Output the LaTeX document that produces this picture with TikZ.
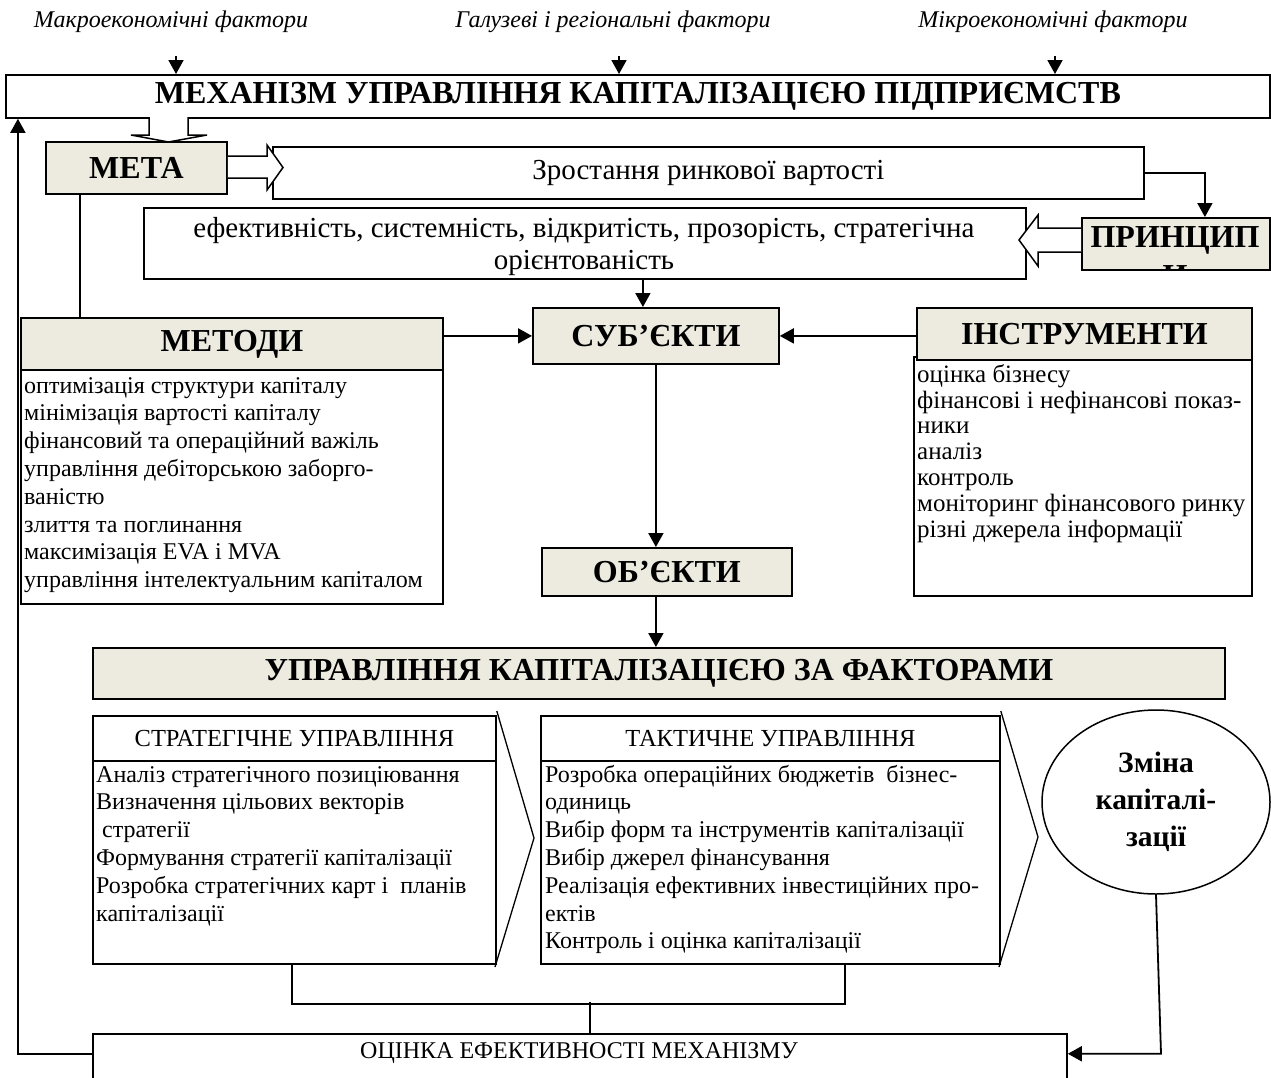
\documentclass[tikz,border=0pt]{standalone}
\usepackage{fontspec}
\setmainfont{Liberation Serif}
\usetikzlibrary{arrows.meta,shapes.geometric}
\definecolor{beige}{RGB}{237,235,224}
\begin{document}
\begin{tikzpicture}[x=1pt,y=-1pt,
  bx/.style={draw,line width=1.8pt,inner sep=0pt,anchor=north west},
  hd/.style={bx,fill=beige,font=\bfseries\fontsize{32}{36}\selectfont},
  ln/.style={line width=1.8pt},
  arr/.style={ln,-{Triangle[length=14pt,width=15pt]}},
  hol/.style={line width=1.5pt,line join=miter},
  lab/.style={font=\itshape\fontsize{24}{28}\selectfont,inner sep=0pt},
  lst/.style={anchor=north west,inner sep=0pt,align=left,font=\fontsize{24}{27.8}\selectfont},
  sub/.style={bx,font=\fontsize{24.5}{28}\selectfont},
  chev/.style={line width=1.3pt},
]
\useasboundingbox (0,0) rectangle (1271,1077);
\fill[white] (0,0) rectangle (1271,1077);

% top labels
\node[lab] (l1) at (171,22) {Макроекономічні фактори};
\node[lab] (l2) at (613,22) {Галузеві і регіональні фактори};
\node[lab] (l3) at (1053,22) {Мікроекономічні фактори};

% title
\node[bx,minimum width=1264pt,minimum height=43pt,font=\bfseries\fontsize{32}{36}\selectfont] (title) at (5,74) {МЕХАНІЗМ УПРАВЛІННЯ КАПІТАЛІЗАЦІЄЮ ПІДПРИЄМСТВ};
\coordinate (t1) at (176,56);
\coordinate (t2) at (619,56);
\coordinate (t3) at (1055,56);
\draw[arr] (t1) -- (t1 |- title.north);
\draw[arr] (t2) -- (t2 |- title.north);
\draw[arr] (t3) -- (t3 |- title.north);

% META
\node[hd,minimum width=181pt,minimum height=52pt] (meta) at (45,141) {МЕТА};
\node[bx,minimum width=871pt,minimum height=52pt,font=\fontsize{29}{32}\selectfont] (grow) at (272,146) {Зростання ринкової вартості};

% hollow down arrow title -> META
\filldraw[hol,fill=white] (149,117) -- (149,135) -- (131,135) -- (168.5,142) -- (207,135) -- (188,135) -- (188,117);
% hollow right arrow META -> grow
\fill[white] (meta.east |- 0,156) -- (267,156) -- (267,145) -- (283,167.5) -- (267,190) -- (267,178) -- (meta.east |- 0,178) -- cycle;
\draw[hol] (meta.east |- 0,156) -- (267,156) -- (267,145) -- (283,167.5) -- (267,190) -- (267,178) -- (meta.east |- 0,178);

% principles
\node[bx,minimum width=882pt,minimum height=71pt] (prin) at (143,207) {};
\node[align=center,inner sep=0pt,font=\fontsize{29}{32}\selectfont] (print) at (584,247) {ефективність, системність, відкритість, прозорість, стратегічна\\орієнтованість};
\node[hd,minimum width=188pt,minimum height=52pt] (princ) at (1081,217) {};
\node[font=\bfseries\fontsize{32}{36}\selectfont,inner sep=0pt] (princt) at (1175,240) {ПРИНЦИП};
\begin{scope}
\clip (1082,218) rectangle (1268,268);
\node[font=\bfseries\fontsize{32}{36}\selectfont,inner sep=0pt] (princt2) at (1175,276) {И};
\end{scope}
\draw[arr] (grow.east) -| ([xshift=29pt]princ.north);
% hollow left arrow
\filldraw[hol,fill=white] (princ.west |- 0,228) -- (1038,228) -- (1038,215) -- (1019,240) -- (1038,266) -- (1038,252) -- (princ.west |- 0,252);

% SUBJECTS
\node[hd,minimum width=246pt,minimum height=56pt] (subj) at (532,307) {СУБ’ЄКТИ};
\draw[arr] ([xshift=58pt]prin.south) -- ([xshift=-13pt]subj.north);

% METHODS
\node[bx,minimum width=422pt,minimum height=234pt] (methl) at (20,369) {};
\node[hd,minimum width=422pt,minimum height=52pt] (meth) at (20,317) {МЕТОДИ};
\node[lst] (metht) at (24,373.5) {\strut оптимізація структури капіталу\\мінімізація вартості капіталу\\фінансовий та операційний важіль\\управління дебіторською заборго-\\ваністю\\злиття та поглинання\\максимізація EVA і MVA\\управління інтелектуальним капіталом};
\draw[ln] ([xshift=-56.5pt]meta.south) -- ([xshift=-56.5pt]meta.south |- meth.north);
\draw[arr] (meth.east |- subj.west) -- (subj.west);

% INSTRUMENTS
\node[bx,minimum width=338pt,minimum height=239pt] (instl) at (913,356) {};
\node[hd,minimum width=335pt,minimum height=52pt] (inst) at (916,307) {ІНСТРУМЕНТИ};
\node[lst,font=\fontsize{25}{25.8}\selectfont] (instt) at (917,364) {\strut оцінка бізнесу\\фінансові і нефінансові показ-\\ники\\аналіз\\контроль\\моніторинг фінансового ринку\\різні джерела інформації};
\draw[arr] (inst.west |- subj.east) -- (subj.east);

% OBJECTS
\node[hd,minimum width=250pt,minimum height=48pt] (obj) at (541,547) {ОБ’ЄКТИ};
\draw[arr] (subj.south) -- (subj.south |- obj.north);

% banner
\node[hd,minimum width=1132pt,minimum height=51pt] (ban) at (92,647) {УПРАВЛІННЯ КАПІТАЛІЗАЦІЄЮ ЗА ФАКТОРАМИ};
\draw[arr] (subj.south |- obj.south) -- (subj.south |- ban.north);

% strategic
\node[sub,minimum width=403pt,minimum height=45pt] (strh) at (92,715) {СТРАТЕГІЧНЕ УПРАВЛІННЯ};
\node[bx,minimum width=403pt,minimum height=203pt] (strb) at (92,760) {};
\node[lst] (strt) at (96,762.5) {\strut Аналіз стратегічного позиціювання\\Визначення цільових векторів\\\ стратегії\\Формування стратегії капіталізації\\Розробка стратегічних карт і \ планів\\капіталізації};
\draw[chev] (strh.north east) ++(0,-4) -- (534,838) -- (495,967);

% tactical
\node[sub,minimum width=459pt,minimum height=45pt] (tach) at (540,715) {ТАКТИЧНЕ УПРАВЛІННЯ};
\node[bx,minimum width=459pt,minimum height=203pt] (tacb) at (540,760) {};
\node[lst] (tact) at (545,762.5) {\strut Розробка операційних бюджетів \ бізнес-\\одиниць\\Вибір форм та інструментів капіталізації\\Вибір джерел фінансування\\Реалізація ефективних інвестиційних про-\\ектів\\Контроль і оцінка капіталізації};
\draw[chev] (tach.north east) ++(0,-4) -- (1038,837) -- (999,967);

% ellipse
\node[draw,ellipse,line width=1.5pt,minimum width=228pt,minimum height=184pt,inner sep=0pt,align=center,font=\bfseries\fontsize{29.5}{37}\selectfont] (ell) at (1156,802) {Зміна\\капіталі-\\зації};

% evaluation
\node[bx,minimum width=974pt,minimum height=60pt] (eval) at (92,1033) {};
\node[font=\fontsize{24}{28}\selectfont,inner sep=0pt] (evalt) at (579,1053) {ОЦІНКА ЕФЕКТИВНОСТІ МЕХАНІЗМУ};

% bottom connectors
\draw[ln] ([xshift=-2.5pt]strb.south) -- ++(0,39) -| ([xshift=74.5pt]tacb.south);
\draw[ln] ([xshift=10pt]eval.north) -- ++(0,-31);
\draw[arr] (ell.south) -- ++(5,159) coordinate (ec) -- (ec -| eval.east);
\draw[arr] (eval.west |- ec) -| ([xshift=-620pt]title.south);
\end{tikzpicture}
\end{document}
